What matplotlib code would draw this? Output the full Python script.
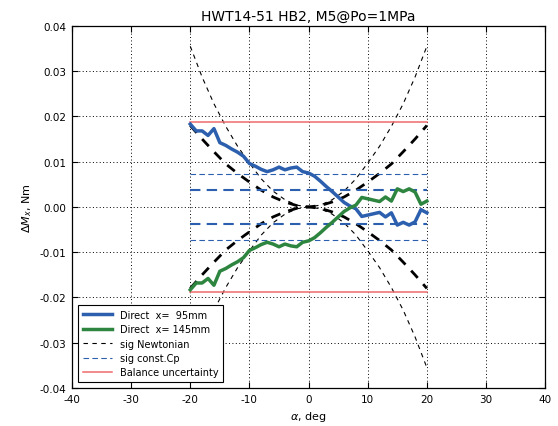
import numpy as np
import matplotlib

matplotlib.use("Agg")
import matplotlib.pyplot as plt
from matplotlib.ticker import FormatStrFormatter, MultipleLocator

# angle of attack, deg
alpha = list(range(-20, 21))

# measured moment, sensor at x = 95 mm
direct_95 = [0.0183, 0.0168, 0.0168, 0.0158, 0.0173, 0.0142, 0.0136, 0.0128, 0.0121, 0.0112,
             0.0096, 0.0090, 0.0083, 0.0078, 0.0082, 0.0088, 0.0082, 0.0086, 0.0088, 0.0078,
             0.0075, 0.0068, 0.0057, 0.0045, 0.0034, 0.0022, 0.0010, 0.0002, -0.0004, -0.0021,
             -0.0018, -0.0015, -0.0012, -0.0022, -0.0013, -0.0040, -0.0034, -0.0040, -0.0033, -0.0006,
             -0.0013]
# measured moment, sensor at x = 145 mm
direct_145 = [-0.0183, -0.0168, -0.0168, -0.0158, -0.0173, -0.0142, -0.0136, -0.0128, -0.0121, -0.0112,
              -0.0096, -0.0090, -0.0083, -0.0078, -0.0082, -0.0088, -0.0082, -0.0086, -0.0088, -0.0078,
              -0.0075, -0.0068, -0.0057, -0.0045, -0.0034, -0.0022, -0.0010, -0.0002, 0.0004, 0.0021,
              0.0018, 0.0015, 0.0012, 0.0022, 0.0013, 0.0040, 0.0034, 0.0040, 0.0033, 0.0006,
              0.0013]

# newtonian sigma, coarse grid
alpha_sig = list(range(-20, 21, 2))
sig_newt_95 = [0.0180, 0.0150, 0.0122, 0.0095, 0.0074, 0.0055, 0.0037, 0.0022, 0.0011, 0.0003, 0.0,
               0.0003, 0.0011, 0.0022, 0.0037, 0.0055, 0.0074, 0.0095, 0.0122, 0.0150, 0.0180]
sig_newt_145 = [0.0355, 0.0287, 0.0228, 0.0178, 0.0134, 0.0097, 0.0062, 0.0035, 0.0016, 0.0004, 0.0,
                0.0004, 0.0016, 0.0035, 0.0062, 0.0097, 0.0134, 0.0178, 0.0228, 0.0287, 0.0355]

sig_cp_95 = 0.0037
sig_cp_145 = 0.0073
balance_unc = 0.0188

BLUE = "#2c5fad"
GREEN = "#2e8540"

plt.rcParams["axes.unicode_minus"] = False
plt.rcParams["font.size"] = 7.5

fig = plt.figure(figsize=(5.58, 4.27), dpi=100)
ax = fig.add_axes([0.129, 0.089, 0.848, 0.848])

a = np.array(alpha)
asg = np.array(alpha_sig)
s95 = np.array(sig_newt_95)
s145 = np.array(sig_newt_145)

ax.plot(a, direct_95, color=BLUE, lw=2.5, zorder=5, label="Direct  x=  95mm")
ax.plot(a, direct_145, color=GREEN, lw=2.5, zorder=5, label="Direct  x= 145mm")

dash = (0, (4, 4))
ax.plot(asg, s145, color="k", lw=0.8, ls=dash, label="sig Newtonian")
ax.plot(asg, -s145, color="k", lw=0.8, ls=dash)
ax.plot(asg, s95, color="k", lw=2.0, ls=(0, (3.5, 3)))
ax.plot(asg, -s95, color="k", lw=2.0, ls=(0, (3.5, 3)))

ax.plot([a[0], a[-1]], [sig_cp_145] * 2, color=BLUE, lw=0.8, ls=(0, (5, 3)), label="sig const.Cp")
ax.plot([a[0], a[-1]], [-sig_cp_145] * 2, color=BLUE, lw=0.8, ls=(0, (5, 3)))
ax.plot([a[0], a[-1]], [sig_cp_95] * 2, color=BLUE, lw=1.5, ls=(0, (5, 3)))
ax.plot([a[0], a[-1]], [-sig_cp_95] * 2, color=BLUE, lw=1.5, ls=(0, (5, 3)))

ax.plot([a[0], a[-1]], [balance_unc] * 2, color="#f06a6a", lw=1.1, label="Balance uncertainty")
ax.plot([a[0], a[-1]], [-balance_unc] * 2, color="#f06a6a", lw=1.1)

ax.set_xlim(-40, 40)
ax.set_ylim(-0.04, 0.04)
ax.xaxis.set_major_locator(MultipleLocator(10))
ax.yaxis.set_major_locator(MultipleLocator(0.01))
ax.yaxis.set_major_formatter(FormatStrFormatter("%.2f"))
ax.tick_params(direction="in", top=True, right=True, length=4, width=0.8, labelsize=7.5, pad=4)
ax.grid(True, color="k", ls=(0, (1, 2.5)), lw=0.7)
for sp in ax.spines.values():
    sp.set_linewidth(0.9)

ax.set_title("HWT14-51 HB2, M5@Po=1MPa", fontsize=10, pad=4)
ax.set_xlabel(r"$\alpha$, deg", fontsize=8)
ax.set_ylabel(r"$\Delta M_x$, Nm", fontsize=8)

leg = ax.legend(loc="lower left", fontsize=7, fancybox=False, framealpha=1,
                edgecolor="k", handlelength=3.0, borderpad=0.5, labelspacing=0.45,
                borderaxespad=0.6)
leg.get_frame().set_linewidth(0.8)

fig.savefig("out.png", dpi=100)
